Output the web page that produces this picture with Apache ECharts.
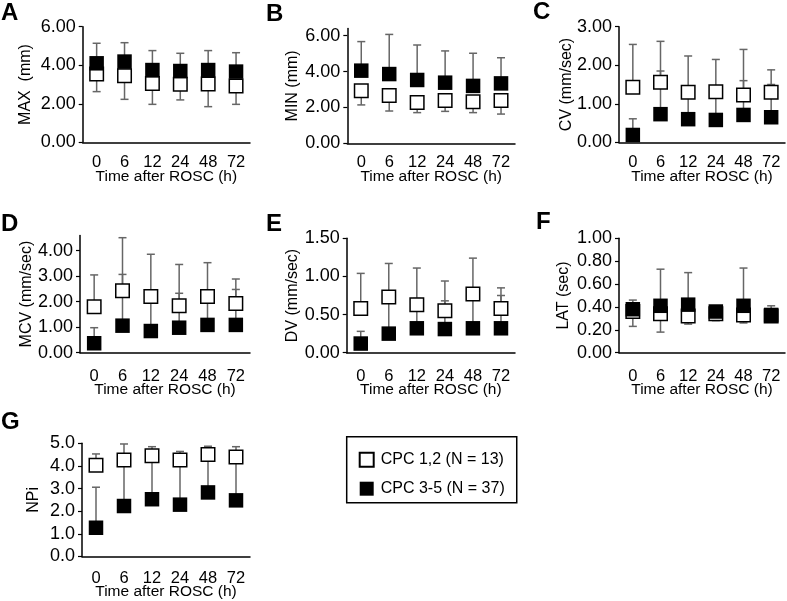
<!DOCTYPE html>
<html>
<head>
<meta charset="utf-8">
<script src="https://cdn.jsdelivr.net/npm/echarts@6/dist/echarts.min.js"></script>
<style>html,body{margin:0;padding:0;background:#fff}#c{width:787px;height:601px}</style>
</head>
<body>
<div id="c"></div>
<script>
// ---- categories ----
const times = ['0', '6', '12', '24', '48', '72'];
const legendNames = ['CPC 1,2 (N = 13)', 'CPC 3-5 (N = 37)'];

// ---- A: MAX (mm) ----
const openA = [3.55, 3.46, 3.05, 3.01, 3.03, 2.92];
const openSdA = [0.92, 1.23, 1.08, 0.81, 1.18, 0.95];
const blackA = [4.10, 4.19, 3.75, 3.70, 3.75, 3.67];
const blackSdA = [1.04, 0.98, 1.01, 0.92, 1.01, 0.98];
// ---- B: MIN (mm) ----
const openB = [2.93, 2.66, 2.27, 2.38, 2.32, 2.38];
const openSdB = [0.79, 0.86, 0.56, 0.60, 0.61, 0.75];
const blackB = [4.05, 3.86, 3.53, 3.38, 3.20, 3.34];
const blackSdB = [1.62, 2.21, 1.95, 1.77, 1.82, 1.43];
// ---- C: CV (mm/sec) ----
const openC = [1.43, 1.56, 1.30, 1.31, 1.23, 1.30];
const openSdC = [1.11, 1.06, 0.94, 0.84, 1.18, 0.58];
const blackC = [0.19, 0.73, 0.60, 0.58, 0.71, 0.65];
const blackSdC = [0.42, 1.12, 0.70, 0.67, 0.89, 0.85];
// ---- D: MCV (mm/sec) ----
const openD = [1.80, 2.43, 2.20, 1.84, 2.20, 1.93];
const openSdD = [1.25, 2.08, 1.66, 1.62, 1.33, 0.96];
const blackD = [0.37, 1.06, 0.85, 0.98, 1.09, 1.09];
const blackSdD = [0.61, 2.01, 1.35, 1.35, 1.11, 1.39];
// ---- E: DV (mm/sec) ----
const openE = [0.58, 0.73, 0.63, 0.55, 0.77, 0.58];
const openSdE = [0.46, 0.44, 0.48, 0.39, 0.47, 0.27];
const blackE = [0.12, 0.25, 0.32, 0.31, 0.32, 0.32];
const blackSdE = [0.16, 0.47, 0.39, 0.37, 0.46, 0.43];
// ---- F: LAT (sec) ----
const openF = [0.36, 0.34, 0.32, 0.34, 0.33, 0.32];
const openSdF = [0.13, 0.16, 0.07, 0.06, 0.07, 0.05];
const blackF = [0.38, 0.41, 0.42, 0.36, 0.41, 0.33];
const blackSdF = [0.08, 0.32, 0.28, 0.05, 0.33, 0.08];
// ---- G: NPi ----
const openG = [4.03, 4.26, 4.45, 4.26, 4.50, 4.40];
const openSdG = [0.50, 0.71, 0.40, 0.38, 0.37, 0.45];
const blackG = [1.27, 2.23, 2.53, 2.29, 2.83, 2.48];
const blackSdG = [1.79, 2.03, 1.92, 1.97, 1.67, 1.92];

// ---- y-axis tick labels ----
const ticksA = [0, 2, 4, 6];
const ticksB = [0, 2, 4, 6];
const ticksC = [0, 1, 2, 3];
const ticksD = [0, 1, 2, 3, 4];
const ticksE = [0, 0.5, 1, 1.5];
const ticksF = [0, 0.2, 0.4, 0.6, 0.8, 1.0];
const ticksG = [0, 1, 2, 3, 4, 5];

const FONT = 'Liberation Sans, Arial, Helvetica, sans-serif';

const panels = [
  {letter:'A', name:'MAX  (mm)', open:openA, openSd:openSdA, black:blackA, blackSd:blackSdA, ticks:ticksA, max:6, dec:2, openDir:-1, blackDir:1,
   left:82.7, right:250, top:26.7, bottom:142.3, nameGap:49, lblMargin:11.5, xNameGap:26, lx:1, ly:1},
  {letter:'B', name:'MIN (mm)', open:openB, openSd:openSdB, black:blackB, blackSd:blackSdB, ticks:ticksB, max:6.4, dec:2, openDir:-1, blackDir:1,
   left:347.3, right:515, top:28.5, bottom:143.3, nameGap:47, lblMargin:10.5, xNameGap:25, lx:266, ly:2},
  {letter:'C', name:'CV (mm/sec)', open:openC, openSd:openSdC, black:blackC, blackSd:blackSdC, ticks:ticksC, max:3, dec:2, openDir:1, blackDir:1,
   left:619, right:785, top:26.7, bottom:142.3, nameGap:44, lblMargin:11.5, xNameGap:26, lx:533, ly:0},
  {letter:'D', name:'MCV (mm/sec)', open:openD, openSd:openSdD, black:blackD, blackSd:blackSdD, ticks:ticksD, max:4.6, dec:2, openDir:1, blackDir:1,
   left:80, right:250, top:235.4, bottom:352.7, nameGap:45, lblMargin:15, xNameGap:29, lx:1, ly:212},
  {letter:'E', name:'DV (mm/sec)', open:openE, openSd:openSdE, black:blackE, blackSd:blackSdE, ticks:ticksE, max:1.5, dec:2, openDir:1, blackDir:1,
   left:346.7, right:515, top:238.3, bottom:352.7, nameGap:46, lblMargin:15, xNameGap:29, lx:266, ly:212},
  {letter:'F', name:'LAT (sec)', open:openF, openSd:openSdF, black:blackF, blackSd:blackSdF, ticks:ticksF, max:1.0, dec:2, openDir:-1, blackDir:1,
   left:619, right:785, top:238.3, bottom:352.7, nameGap:47, lblMargin:15, xNameGap:29, lx:536, ly:210},
  {letter:'G', name:'NPi', open:openG, openSd:openSdG, black:blackG, blackSd:blackSdG, ticks:ticksG, max:5, dec:1, openDir:1, blackDir:1,
   left:82, right:250, top:443.3, bottom:557.7, nameGap:40, lblMargin:13.5, xNameGap:27.5, lx:1, ly:410}
];

const W = 787, H = 601;
const grids = [], xAxes = [], yAxes = [], series = [], graphics = [];

function errRender(params, api) {
  const x = api.value(0), m = api.value(1), e = api.value(2);
  const p0 = api.coord([x, m]);
  const p1 = api.coord([x, e]);
  const st = {stroke:'#666', lineWidth:1.5};
  return {type:'group', children:[
    {type:'line', shape:{x1:p0[0], y1:p0[1], x2:p1[0], y2:p1[1]}, style:st},
    {type:'line', shape:{x1:p1[0]-4, y1:p1[1], x2:p1[0]+4, y2:p1[1]}, style:st}
  ]};
}

panels.forEach((p, i) => {
  grids.push({left:p.left, top:p.top, width:p.right - p.left, height:p.bottom - p.top, containLabel:false});
  xAxes.push({
    type:'category', gridIndex:i, data:times, boundaryGap:true,
    name:'Time after ROSC (h)', nameLocation:'middle', nameGap:p.xNameGap, nameMoveOverlap:false,
    nameTextStyle:{fontFamily:FONT, fontSize:15.5, color:'#000'},
    axisLine:{lineStyle:{color:'#000', width:1.5}},
    axisTick:{alignWithLabel:true, length:4, lineStyle:{color:'#000', width:1.2}},
    axisLabel:{fontFamily:FONT, fontSize:16.5, color:'#000', margin:p.lblMargin},
    splitLine:{show:false}
  });
  yAxes.push({
    type:'value', gridIndex:i, min:0, max:p.max,
    name:p.name, nameLocation:'middle', nameGap:p.nameGap, nameRotate:90, nameMoveOverlap:false,
    nameTextStyle:{fontFamily:FONT, fontSize:16, color:'#000'},
    axisLine:{show:true, lineStyle:{color:'#000', width:1.5}},
    axisTick:{show:true, length:4, lineStyle:{color:'#000', width:1.2}, customValues:p.ticks},
    axisLabel:{fontFamily:FONT, fontSize:18, color:'#000', margin:7, customValues:p.ticks,
               formatter:(v) => Number(v).toFixed(p.dec)},
    splitLine:{show:false}
  });
  const blackErr = p.black.map((v, k) => [k, v, v + p.blackDir * p.blackSd[k]]);
  const openErr = p.open.map((v, k) => [k, v, v + p.openDir * p.openSd[k]]);
  series.push({type:'custom', xAxisIndex:i, yAxisIndex:i, renderItem:errRender, data:blackErr,
               encode:{x:0, y:[1, 2]}, z:2, silent:true, clip:false});
  series.push({type:'custom', xAxisIndex:i, yAxisIndex:i, renderItem:errRender, data:openErr,
               encode:{x:0, y:[1, 2]}, z:3, silent:true, clip:false});
  series.push({type:'scatter', name:legendNames[0], xAxisIndex:i, yAxisIndex:i, data:p.open,
               symbol:'rect', symbolSize:13.5, z:4,
               itemStyle:{color:'#fff', borderColor:'#000', borderWidth:1.5, opacity:1}});
  series.push({type:'scatter', name:legendNames[1], xAxisIndex:i, yAxisIndex:i, data:p.black,
               symbol:'rect', symbolSize:14.5, z:5,
               itemStyle:{color:'#000', borderColor:'#000', borderWidth:0, opacity:1}});
  graphics.push({type:'text', left:p.lx, top:p.ly,
                 style:{text:p.letter, font:'bold 24px ' + FONT, fill:'#000'}});
});

const chart = echarts.init(document.getElementById('c'), null, {renderer:'canvas', width:W, height:H});
chart.setOption({
  animation:false,
  backgroundColor:'#fff',
  grid:grids, xAxis:xAxes, yAxis:yAxes, series:series,
  graphic:graphics,
  legend:{
    data:legendNames, orient:'vertical', left:346.7, top:436.7,
    padding:[15, 12, 6, 12], itemGap:13, itemWidth:14, itemHeight:14,
    borderColor:'#000', borderWidth:1.5, selectedMode:false, icon:'rect',
    textStyle:{fontFamily:FONT, fontSize:16, color:'#000', padding:[0, 0, 0, 2]}
  }
});
</script>
</body>
</html>
